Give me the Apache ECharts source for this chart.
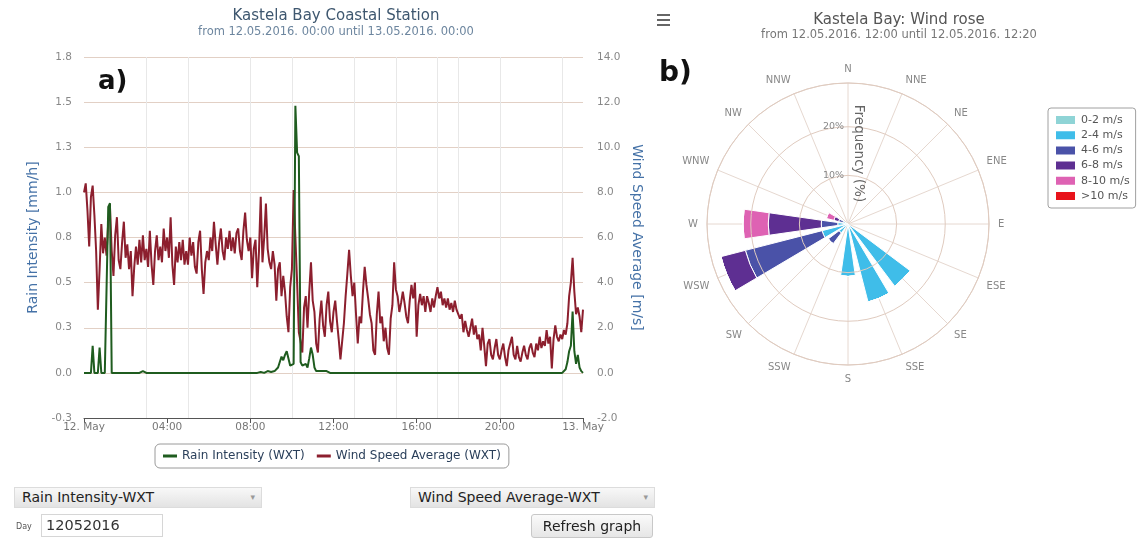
<!DOCTYPE html>
<html>
<head>
<meta charset="utf-8">
<script src="https://cdn.jsdelivr.net/npm/echarts@6/dist/echarts.min.js"></script>
<style>
html,body{margin:0;padding:0;background:#fff;}
#wrap{position:relative;width:1142px;height:539px;overflow:hidden;font-family:"DejaVu Sans",Verdana,sans-serif;}
#chart{position:absolute;left:0;top:0;width:1142px;height:539px;}
.ctl{position:absolute;box-sizing:border-box;color:#222;white-space:nowrap;z-index:5;}
.sel{height:21px;border:1px solid #dcdcdc;background:linear-gradient(#f8f8f8,#e3e3e3);font-size:14px;line-height:19px;padding-left:7px;}
.sel .arr{position:absolute;right:6px;top:0;font-size:9px;color:#999;}
.inp{height:23px;border:1px solid #d6d6d6;background:#fff;font-size:14.5px;line-height:21px;padding-left:4px;color:#333;}
.btn{height:24px;border:1px solid #c8c8c8;border-radius:3px;background:linear-gradient(#fafafa,#e6e6e6);font-size:14px;line-height:22px;text-align:center;}
.lbl{font-size:8px;color:#555;}
</style>
</head>
<body>
<div id="wrap">
  <div id="chart"></div>
  <div class="ctl sel" style="left:14px;top:487px;width:248px;">Rain Intensity-WXT<span class="arr">&#9662;</span></div>
  <div class="ctl sel" style="left:410px;top:487px;width:245px;">Wind Speed Average-WXT<span class="arr">&#9662;</span></div>
  <div class="ctl lbl" style="left:16px;top:522px;">Day</div>
  <div class="ctl inp" style="left:41px;top:514px;width:122px;">12052016</div>
  <div class="ctl btn" style="left:531px;top:514px;width:122px;">Refresh graph</div>
</div>
<script>
// ---------- Line chart data (5-minute samples, 12. May 00:00 -> 13. May 00:00) ----------
const stepMinutes = 5;
const xTickLabels = ['12. May', '04:00', '08:00', '12:00', '16:00', '20:00', '13. May'];
const rainTickLabels = ['-0.3', '0.0', '0.3', '0.5', '0.8', '1.0', '1.3', '1.5', '1.8'];
const windTickLabels = ['-2.0', '0.0', '2.0', '4.0', '6.0', '8.0', '10.0', '12.0', '14.0'];
const verticalGridHours = [3, 5, 8, 10, 13, 15, 17, 18, 20, 23];

const windSpeed = [
  8.0, 8.4, 7.2, 5.6, 7.8, 8.3, 7.0, 5.4, 2.8, 4.6, 6.6, 5.3,
  6.0, 5.2, 6.7, 7.3, 5.4, 4.3, 6.1, 6.9, 5.0, 4.6, 5.8, 6.7,
  5.1, 5.7, 4.6, 5.4, 3.4, 4.7, 5.6, 4.8, 5.9, 4.9, 6.1, 5.0,
  5.5, 4.7, 6.3, 4.8, 3.9, 5.4, 6.1, 5.0, 5.6, 4.9, 6.4, 5.4,
  6.0, 5.1, 6.9, 4.8, 3.9, 5.6, 4.9, 5.8, 5.0, 5.9, 4.8, 5.4,
  4.8, 6.0, 5.2, 5.8, 4.7, 4.4, 5.8, 6.3, 4.6, 3.5, 4.9, 5.4,
  5.0, 6.0, 5.4, 6.7, 5.7, 4.8, 5.8, 6.4, 5.4, 5.0, 6.0, 5.5,
  6.3, 5.4, 6.0, 5.3, 6.2, 6.4, 5.4, 5.0, 6.3, 7.1, 5.9, 5.4,
  6.0, 4.2, 5.5, 5.9, 3.8, 5.4, 7.8, 4.9, 6.0, 7.5, 5.5, 4.9,
  4.6, 5.4, 4.8, 3.2, 4.6, 4.9, 3.4, 4.3, 3.6, 2.5, 1.8, 3.8,
  4.6, 8.1, 6.0, 4.0, 1.8, 1.4, 0.9, 2.9, 3.4, 2.0, 3.6, 4.9,
  3.2, 2.7, 1.3, 0.9, 2.4, 3.2, 2.1, 1.6, 3.0, 3.6, 2.3, 1.8,
  2.7, 3.2, 2.3, 1.5, 0.6, 1.4, 2.2, 3.4, 4.4, 5.45, 4.3, 3.4,
  4.0, 2.6, 1.3, 2.5, 2.2, 3.6, 4.7, 3.9, 3.3, 2.6, 2.2, 1.0,
  0.8, 2.6, 3.6, 2.2, 2.5, 1.4, 2.0, 1.1, 0.8, 2.4, 3.0, 4.9,
  3.7, 3.4, 2.7, 3.1, 3.6, 3.1, 2.5, 2.2, 3.2, 3.9, 3.3, 4.0,
  1.6, 3.0, 3.5, 3.0, 3.4, 2.7, 3.4, 3.1, 2.7, 3.3, 2.9, 3.4,
  3.8, 3.3, 3.6, 3.0, 3.3, 2.9, 3.3, 2.8, 3.1, 2.7, 3.2, 2.8,
  2.8, 2.4, 2.6, 1.8, 2.3, 1.9, 1.6, 2.0, 2.4, 1.7, 2.1, 1.5,
  1.7, 1.0, 2.0, 1.2, 0.3, 1.3, 1.5, 0.8, 0.6, 1.1, 1.5, 0.8,
  0.6, 1.0, 1.3, 0.7, 0.3, 1.0, 1.3, 1.6, 0.8, 0.6, 1.2, 0.7,
  0.5, 0.9, 1.2, 0.8, 0.6, 1.1, 1.3, 0.9, 0.7, 1.3, 1.0, 1.6,
  1.1, 1.4, 1.2, 1.9, 1.3, 1.6, 0.2, 1.5, 2.1, 1.6, 1.4, 1.7,
  1.5, 1.9, 1.7, 2.2, 3.4, 4.0, 5.1, 3.6, 2.6, 2.9, 2.5, 1.8,
  2.8
];

const rainIntensity = [
  0, 0, 0, 0, 0, 0.15, 0, 0, 0, 0.14, 0, 0,
  0, 0, 0.92, 0.94, 0, 0, 0, 0, 0, 0, 0, 0,
  0, 0, 0, 0, 0, 0, 0, 0, 0, 0, 0.01, 0,
  0, 0, 0, 0, 0, 0, 0, 0, 0, 0, 0, 0,
  0, 0, 0, 0, 0, 0, 0, 0, 0, 0, 0, 0,
  0, 0, 0, 0, 0, 0, 0, 0, 0, 0, 0, 0,
  0, 0, 0, 0, 0, 0, 0, 0, 0, 0, 0, 0,
  0, 0, 0, 0, 0, 0, 0, 0, 0, 0, 0, 0,
  0, 0, 0, 0, 0, 0, 0.005, 0, 0, 0.005, 0.01, 0,
  0.005, 0.01, 0.01, 0.02, 0.03, 0.06, 0.09, 0.07, 0.1, 0.12, 0.08, 0.04,
  0.03, 0.05, 1.48, 1.22, 1.2, 0.06, 0.04, 0.03, 0.05, 0.03, 0.08, 0.14,
  0.1, 0.03, 0.01, 0, 0.01, 0, 0.01, 0, 0.01, 0.005, 0, 0.01,
  0, 0.01, 0, 0.005, 0, 0, 0, 0, 0, 0, 0, 0,
  0, 0, 0, 0, 0, 0, 0, 0, 0, 0, 0, 0,
  0, 0, 0, 0, 0, 0, 0, 0, 0, 0, 0, 0,
  0, 0, 0, 0, 0, 0, 0, 0, 0, 0, 0, 0,
  0, 0, 0, 0, 0, 0, 0, 0, 0, 0, 0, 0,
  0, 0, 0, 0, 0, 0, 0, 0, 0, 0, 0, 0,
  0, 0, 0, 0, 0, 0, 0, 0, 0, 0, 0, 0,
  0, 0, 0, 0, 0, 0, 0, 0, 0, 0, 0, 0,
  0, 0, 0, 0, 0, 0, 0, 0, 0, 0, 0, 0,
  0, 0, 0, 0, 0, 0, 0, 0, 0, 0, 0, 0,
  0, 0, 0, 0, 0, 0, 0, 0, 0, 0, 0, 0,
  0, 0, 0.02, 0.06, 0.12, 0.15, 0.34, 0.12, 0.05, 0.1, 0.03, 0.01,
  0
];

// ---------- Wind rose data (frequency %, per direction) ----------
const directions = ['N', 'NNE', 'NE', 'ENE', 'E', 'ESE', 'SE', 'SSE', 'S', 'SSW', 'SW', 'WSW', 'W', 'WNW', 'NW', 'NNW'];
const speedBins = ['0-2 m/s', '2-4 m/s', '4-6 m/s', '6-8 m/s', '8-10 m/s', '>10 m/s'];
const freq0to2  = [0, 0, 0, 0, 0, 0, 0, 0, 0, 0, 0, 0, 0, 0, 0, 0];
const freq2to4  = [0, 0, 0, 0, 0, 0, 16.0, 16.6, 10.8, 0, 2.3, 5.5, 2.1, 1.0, 0, 0];
const freq4to6  = [0, 0, 0, 0, 0, 0, 0, 0, 0, 0, 2.8, 16.3, 3.4, 1.0, 0, 0];
const freq6to8  = [0, 0, 0, 0, 0, 0, 0, 0, 0, 0, 0, 5.2, 10.9, 1.0, 0, 0];
const freq8to10 = [0, 0, 0, 0, 0, 0, 0, 0, 0, 0, 0, 0, 5.2, 1.6, 0, 0];
const freqOver10 = [0, 0, 0, 0, 0, 0, 0, 0, 0, 0, 0, 0, 0, 0, 0, 0];
const roseSeries = [freq0to2, freq2to4, freq4to6, freq6to8, freq8to10, freqOver10];
const binColors = ['#8fd4d6', '#3fbde9', '#4a52a8', '#5e2f92', '#de62b3', '#e8131b'];
const roseMax = 29;

const FONT = '"DejaVu Sans", Verdana, sans-serif';
const hours = i => i * stepMinutes / 60;
const bandDeg = 360 / directions.length;

const chart = echarts.init(document.getElementById('chart'), null, { renderer: 'canvas' });

const option = {
  animation: false,
  backgroundColor: '#ffffff',
  textStyle: { fontFamily: FONT },
  title: [
    {
      text: 'Kastela Bay Coastal Station',
      subtext: 'from 12.05.2016. 00:00 until 13.05.2016. 00:00',
      left: 336, top: 9, textAlign: 'center', itemGap: 2, padding: 0,
      textStyle: { fontFamily: FONT, fontSize: 15, fontWeight: 'normal', color: '#3E576F' },
      subtextStyle: { fontFamily: FONT, fontSize: 11.5, color: '#6D869F' }
    },
    {
      text: 'Kastela Bay: Wind rose',
      subtext: 'from 12.05.2016. 12:00 until 12.05.2016. 12:20',
      left: 899, top: 13, textAlign: 'center', itemGap: 1, padding: 0,
      textStyle: { fontFamily: FONT, fontSize: 15, fontWeight: 'normal', color: '#555' },
      subtextStyle: { fontFamily: FONT, fontSize: 11.5, color: '#777' }
    }
  ],
  legend: [
    {
      data: ['Rain Intensity (WXT)', 'Wind Speed Average (WXT)'],
      left: 155, top: 444,
      orient: 'horizontal',
      borderColor: '#9a9a9a', borderWidth: 1, borderRadius: 5,
      padding: [6, 8], itemGap: 12, itemWidth: 14, itemHeight: 3, icon: 'rect',
      textStyle: { fontFamily: FONT, fontSize: 12, color: '#2a3f5a' }
    },
    {
      data: speedBins,
      left: 1048, top: 108,
      orient: 'vertical',
      borderColor: '#a0a0a0', borderWidth: 1, borderRadius: 3,
      padding: [6, 6], itemGap: 3.2, itemWidth: 21, itemHeight: 10,
      icon: 'rect',
      textStyle: { fontFamily: FONT, fontSize: 11, color: '#555' }
    }
  ],
  grid: { left: 84, top: 57, width: 499, height: 361, containLabel: false, show: false },
  xAxis: {
    type: 'value', min: 0, max: 24, interval: 4,
    axisLine: { show: true, onZero: false, lineStyle: { color: '#555', width: 1 } },
    axisTick: { show: true, length: 5, lineStyle: { color: '#555' } },
    axisLabel: {
      fontFamily: FONT, fontSize: 10.5, color: '#777', margin: 4,
      formatter: v => xTickLabels[Math.round(v / 4)]
    },
    splitLine: { show: false }
  },
  yAxis: [
    {
      type: 'value', position: 'left', min: -0.25, max: 1.75, interval: 0.25,
      axisLine: { show: false }, axisTick: { show: false },
      axisLabel: {
        fontFamily: FONT, fontSize: 10.5, color: '#888', margin: 12,
        formatter: v => rainTickLabels[Math.round((v + 0.25) / 0.25)]
      },
      splitLine: { show: true, lineStyle: { color: '#e2d0c5', width: 1 } },
      name: 'Rain Intensity [mm/h]', nameLocation: 'middle', nameGap: 44,
      nameTextStyle: { fontFamily: FONT, fontSize: 14, color: '#4572A7' }
    },
    {
      type: 'value', position: 'right', min: -2, max: 14, interval: 2,
      axisLine: { show: false }, axisTick: { show: false },
      axisLabel: {
        fontFamily: FONT, fontSize: 10.5, color: '#888', margin: 14,
        formatter: v => windTickLabels[Math.round((v + 2) / 2)]
      },
      splitLine: { show: false },
      name: 'Wind Speed Average [m/s]', nameLocation: 'middle', nameGap: 47, nameRotate: -90,
      nameTextStyle: { fontFamily: FONT, fontSize: 14, color: '#4572A7' }
    }
  ],
  polar: [
    { center: [848, 224], radius: 141 },
    { center: [848, 224], radius: 141 }
  ],
  angleAxis: [
    {
      polarIndex: 0, type: 'category', data: directions, boundaryGap: true,
      startAngle: 90 + bandDeg / 2, clockwise: true,
      axisLine: { show: true, lineStyle: { color: '#e0d2ca', width: 1 } },
      axisTick: { show: false },
      axisLabel: { fontFamily: FONT, fontSize: 10, color: '#888', margin: 9 },
      splitLine: { show: false },
      z: 1
    },
    {
      polarIndex: 1, type: 'value', min: 0, max: 360, interval: bandDeg,
      startAngle: 90, clockwise: true,
      axisLine: { show: false }, axisTick: { show: false }, axisLabel: { show: false },
      splitLine: { show: true, lineStyle: { color: '#e6d8d0', width: 1 } },
      z: 0
    }
  ],
  radiusAxis: [
    {
      polarIndex: 0, type: 'value', min: 0, max: roseMax,
      axisLine: { show: false }, axisTick: { show: false },
      axisLabel: { show: false }, splitLine: { show: false }
    },
    {
      polarIndex: 1, type: 'value', min: 0, max: roseMax, interval: 10,
      axisLine: { show: false }, axisTick: { show: false },
      splitLine: { show: true, lineStyle: { color: '#e0cbbf', width: 1 } },
      axisLabel: {
        fontFamily: FONT, fontSize: 9.5, color: '#888', margin: 4,
        formatter: v => (v === 10 || v === 20) ? v + '%' : ''
      },
      name: 'Frequency (%)', nameLocation: 'middle', nameGap: 3, nameRotate: -90,
      nameTextStyle: { fontFamily: FONT, fontSize: 13.5, color: '#666' },
      z: 3
    }
  ],
  graphic: [
    { type: 'text', left: 98, top: 69, style: { text: 'a)', fontFamily: FONT, fontSize: 26, fontWeight: 'bold', fill: '#111' } },
    { type: 'text', left: 659, top: 60, style: { text: 'b)', fontFamily: FONT, fontSize: 28, fontWeight: 'bold', fill: '#111' } },
    { type: 'rect', left: 657, top: 14, shape: { width: 13, height: 2 }, style: { fill: '#666' } },
    { type: 'rect', left: 657, top: 19, shape: { width: 13, height: 2 }, style: { fill: '#666' } },
    { type: 'rect', left: 657, top: 24, shape: { width: 13, height: 2 }, style: { fill: '#666' } }
  ],
  series: [
    {
      name: 'Rain Intensity (WXT)', type: 'line', xAxisIndex: 0, yAxisIndex: 0,
      data: rainIntensity.map((v, i) => [hours(i), v]),
      symbol: 'none', z: 4,
      lineStyle: { color: '#1f5c1f', width: 2 }, itemStyle: { color: '#1f5c1f' },
      markLine: {
        silent: true, symbol: 'none', z: 1, animation: false,
        label: { show: false },
        lineStyle: { color: '#e8e8e8', width: 1, type: 'solid' },
        data: verticalGridHours.map(h => ({ xAxis: h }))
      }
    },
    {
      name: 'Wind Speed Average (WXT)', type: 'line', xAxisIndex: 0, yAxisIndex: 1,
      data: windSpeed.map((v, i) => [hours(i), v]),
      symbol: 'none', z: 3,
      lineStyle: { color: '#8c1f2e', width: 2 }, itemStyle: { color: '#8c1f2e' }
    }
  ].concat(roseSeries.map((arr, k) => ({
    name: speedBins[k], type: 'bar', coordinateSystem: 'polar', polarIndex: 0, stack: 'rose',
    data: arr, barWidth: '72%',
    itemStyle: { color: binColors[k], borderColor: '#ffffff', borderWidth: 1 },
    z: 2
  })))
};

chart.setOption(option);
</script>
</body>
</html>
